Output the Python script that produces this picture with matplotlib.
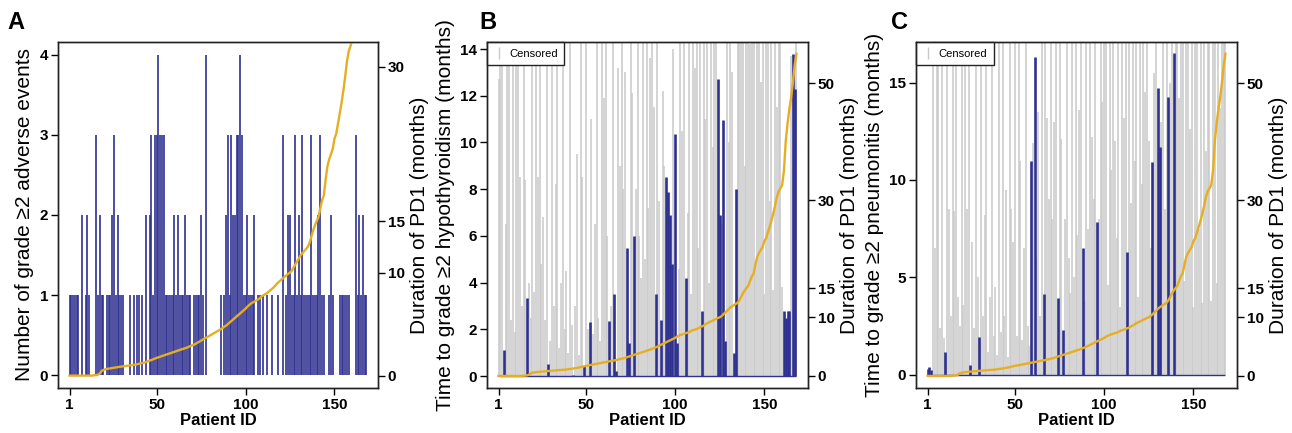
import matplotlib
matplotlib.use('Agg')
import matplotlib.pyplot as plt
from matplotlib.lines import Line2D
import numpy as np

plt.rcParams['font.family'] = ['Liberation Sans', 'DejaVu Sans']

# patients sorted by duration of PD1 treatment
patients = np.arange(1, 169)

# duration of PD1 (months), right axis
pd1_duration = [
    0.0, 0.0, 0.0, 0.0, 0.0, 0.0, 0.0, 0.0, 0.0, 0.0, 0.0, 0.0, 0.0, 0.0, 0.05, 0.05, 0.1,
    0.2, 0.45, 0.55, 0.6, 0.65, 0.68, 0.7, 0.74, 0.78, 0.8, 0.82, 0.85, 0.87,
    0.9, 0.92, 0.95, 0.97, 1.0, 1.02, 1.04, 1.06, 1.1, 1.14,
    1.18, 1.22, 1.27, 1.32, 1.38, 1.45, 1.52, 1.6, 1.66, 1.72,
    1.78, 1.85, 1.9, 1.96, 2.02, 2.08, 2.13, 2.2, 2.26, 2.32,
    2.38, 2.43, 2.5, 2.55, 2.6, 2.66, 2.72, 2.8, 2.88, 2.95,
    3.0, 3.1, 3.2, 3.3, 3.4, 3.5, 3.6, 3.7, 3.8, 3.9,
    4.0, 4.1, 4.2, 4.3, 4.4, 4.5, 4.6, 4.75, 4.85, 5.0,
    5.15, 5.3, 5.45, 5.6, 5.75, 5.9, 6.05, 6.2, 6.35, 6.5,
    6.7, 6.85, 7.0, 7.1, 7.2, 7.3, 7.4, 7.5, 7.7, 7.8,
    7.9, 8.0, 8.15, 8.3, 8.45, 8.6, 8.8, 9.0, 9.15, 9.3,
    9.45, 9.6, 9.75, 9.9, 10.0, 10.2, 10.5, 10.8, 11.1, 11.4,
    11.7, 11.9, 12.1, 12.3, 12.5, 12.9, 13.5, 14.1, 14.6, 15.0,
    15.4, 16.2, 17.0, 17.5, 19.0, 20.3, 21.0, 21.5, 22.0, 23.0,
    23.5, 24.5, 25.5, 26.5, 27.7, 29.0, 30.5, 31.5, 32.0, 32.6,
    35.0, 40.0, 43.0, 45.5, 47.5, 50.0, 53.0, 55.0,
]

# number of grade >=2 adverse events per patient (panel A)
ae_counts = [
    1, 1, 1, 1, 1, 1, 0, 2, 0, 1,
    2, 1, 0, 0, 0, 3, 1, 2, 1, 1,
    0, 1, 1, 1, 2, 3, 1, 2, 1, 1,
    1, 0, 0, 0, 1, 0, 1, 0, 1, 1,
    0, 1, 0, 2, 0, 2, 3, 1, 3, 3,
    4, 3, 3, 3, 1, 1, 1, 1, 1, 2,
    1, 2, 1, 1, 1, 2, 1, 1, 1, 0,
    1, 1, 1, 1, 2, 1, 0, 4, 0, 0,
    0, 0, 0, 0, 0, 1, 0, 1, 2, 3,
    1, 3, 2, 2, 3, 3, 4, 3, 1, 1,
    2, 1, 1, 1, 2, 0, 1, 1, 0, 1,
    0, 1, 0, 0, 1, 0, 0, 1, 0, 0,
    3, 0, 1, 2, 2, 1, 1, 3, 1, 2,
    1, 3, 1, 1, 1, 1, 3, 1, 1, 1,
    2, 3, 1, 1, 0, 0, 1, 2, 1, 0,
    0, 0, 1, 1, 1, 1, 1, 1, 0, 0,
    0, 3, 1, 2, 1, 2, 1, 1,
]

# follow-up time (months) shown as censored bars
follow_up = [
    12.7, 20, 20, 20, 6.5, 20, 20, 2.4, 20, 1.9,
    20, 20, 8.5, 3.0, 20, 8.4, 20, 4.0, 2.5, 20,
    3.6, 20, 8.5, 20, 4.8, 6.8, 2.4, 20, 5.0, 1.5,
    20, 3.0, 8.2, 20, 1.2, 4.0, 20, 2.0, 4.5, 1.0,
    20, 2.2, 20, 3.0, 9.5, 0.9, 20, 8.5, 6.8, 20,
    2.0, 20, 11.0, 1.8, 6.5, 20, 2.5, 1.5, 20, 11.9,
    20, 6.0, 13.5, 3.0, 20, 6.2, 20, 13.2, 9.0, 20,
    8.0, 13.0, 20, 6.4, 20, 12.1, 7.8, 8.0, 20, 6.0,
    4.2, 20, 5.0, 20, 7.2, 13.6, 20, 11.5, 3.8, 20,
    7.5, 20, 12.2, 9.0, 20, 11.0, 8.0, 20, 14.0, 20,
    20, 4.6, 20, 10.5, 20, 12.0, 7.0, 20, 3.5, 20,
    13.2, 20, 5.5, 20, 8.8, 20, 11.0, 20, 4.0, 20,
    9.8, 20, 14.5, 20, 12.0, 6.5, 20, 15.5, 20, 10.0,
    20, 13.0, 20, 8.5, 20, 20, 15.0, 20, 9.0, 20,
    20, 14.2, 20, 20, 4.8, 20, 20, 12.6, 20, 3.5,
    20, 20, 7.5, 20, 3.7, 20, 11.5, 20, 20, 3.8,
    20, 20, 4.7, 20, 13.7, 20, 20, 20,
]

# grade >=2 hypothyroidism events (panel B)
hypo_patients = [4, 17, 29, 43, 49, 52, 63, 66, 67, 73, 74, 77, 89, 92, 95, 96, 97, 98,
                 100, 101, 106, 115, 124, 125, 127, 128, 133, 134, 161, 162, 163, 164, 166, 167]
hypo_times = [1.1, 3.35, 0.53, 0.05, 0.45, 2.3, 2.35, 3.5, 0.2, 5.5, 1.4, 6.0, 3.5, 2.4, 8.5, 7.9, 6.9, 4.8,
              10.35, 1.4, 4.2, 2.8, 12.7, 6.9, 10.95, 1.5, 1.0, 8.0, 2.8, 2.5, 2.8, 2.8, 13.8, 12.3]

# grade >=2 pneumonitis events (panel C)
pneu_patients = [1, 2, 3, 11, 25, 30, 59, 61, 66, 74, 77, 88, 96, 113, 127, 130, 131, 136, 139]
pneu_times = [0.3, 0.4, 0.25, 1.2, 0.5, 1.95, 11.0, 16.3, 4.15, 3.95, 2.3, 6.5, 7.85, 6.3,
              10.9, 14.7, 11.7, 14.25, 16.5]

blue = '#2f3190'
gray = '#c9c9c9'
gold = '#e6ae22'

fig = plt.figure(figsize=(12.92, 4.33), dpi=100)
axes_pos = [[0.0449, 0.104, 0.2477, 0.799],
            [0.3769, 0.104, 0.2485, 0.799],
            [0.709, 0.104, 0.2485, 0.799]]


def style_axes(ax, ax2, yticks, ylim, rticks, rlim):
    ax.set_xlim(-5.5, 174.5)
    ax.set_ylim(*ylim)
    ax2.set_ylim(*rlim)
    ax.set_xticks([1, 50, 100, 150], ['1', '50', '100', '150'], fontweight='bold', fontsize=11)
    ax.set_yticks(yticks, [str(t) for t in yticks], fontweight='bold', fontsize=11)
    ax2.set_yticks(rticks, [str(t) for t in rticks], fontweight='bold', fontsize=11)
    ax.tick_params(direction='out', length=5, width=1, pad=2)
    ax2.tick_params(direction='out', length=5, width=1, pad=2)
    ax.set_xlabel('Patient ID', fontweight='bold', fontsize=12, labelpad=1)
    for a in (ax, ax2):
        for s in a.spines.values():
            s.set_linewidth(1)
            s.set_color('#222222')


def censored_panel(ax, event_patients, event_times):
    cens = np.array([p not in event_patients for p in patients])
    cens_p = patients[cens]
    cens_t = np.array(follow_up)[cens]
    ax.vlines(cens_p, 0, cens_t, color=gray, lw=1.1, zorder=1)
    ax.hlines(0, patients.min(), patients.max(), color=blue, lw=1.0, zorder=2)
    ax.vlines(event_patients, 0, event_times, color=blue, lw=1.9, zorder=3)
    h = Line2D([], [], color=gray, marker='|', linestyle='none', markersize=9, markeredgewidth=1)
    leg = ax.legend([h], ['Censored'], loc='upper left', bbox_to_anchor=(0, 1), borderaxespad=0,
                    fancybox=False, framealpha=1, edgecolor='#222222', fontsize=8,
                    handlelength=1.0, handletextpad=0.4, borderpad=0.6)
    leg.get_frame().set_linewidth(1)
    leg.set_zorder(10)


# panel A
axA = fig.add_axes(axes_pos[0])
axA.vlines(patients, 0, ae_counts, color=blue, lw=1.2)
axA2 = axA.twinx()
axA2.plot(patients, pd1_duration, color=gold, lw=1.7)
style_axes(axA, axA2, [0, 1, 2, 3, 4], (-0.16, 4.16), [0, 10, 15, 30], (-1.2, 32.4))
axA.set_ylabel('Number of grade \u22652 adverse events', fontsize=15, labelpad=4)
axA2.set_ylabel('Duration of PD1 (months)', fontsize=15, labelpad=4)

# panel B
axB = fig.add_axes(axes_pos[1])
censored_panel(axB, hypo_patients, hypo_times)
axB2 = axB.twinx()
axB2.plot(patients, pd1_duration, color=gold, lw=1.7)
style_axes(axB, axB2, list(range(0, 15, 2)), (-0.51, 14.3), [0, 10, 15, 30, 50], (-2.05, 57.0))
axB.set_ylabel('Time to grade \u22652 hypothyroidism (months)', fontsize=15, labelpad=4)
axB2.set_ylabel('Duration of PD1 (months)', fontsize=15, labelpad=4)

# panel C
axC = fig.add_axes(axes_pos[2])
censored_panel(axC, pneu_patients, pneu_times)
axC2 = axC.twinx()
axC2.plot(patients, pd1_duration, color=gold, lw=1.7)
style_axes(axC, axC2, [0, 5, 10, 15], (-0.67, 17.08), [0, 10, 15, 30, 50], (-2.05, 57.0))
axC.set_ylabel('Time to grade \u22652 pneumonitis (months)', fontsize=15, labelpad=4)
axC2.set_ylabel('Duration of PD1 (months)', fontsize=15, labelpad=4)

fig.text(0.006, 0.975, 'A', fontsize=17, fontweight='bold', va='top')
fig.text(0.371, 0.975, 'B', fontsize=17, fontweight='bold', va='top')
fig.text(0.690, 0.975, 'C', fontsize=17, fontweight='bold', va='top')

fig.savefig('out.png', dpi=100)
